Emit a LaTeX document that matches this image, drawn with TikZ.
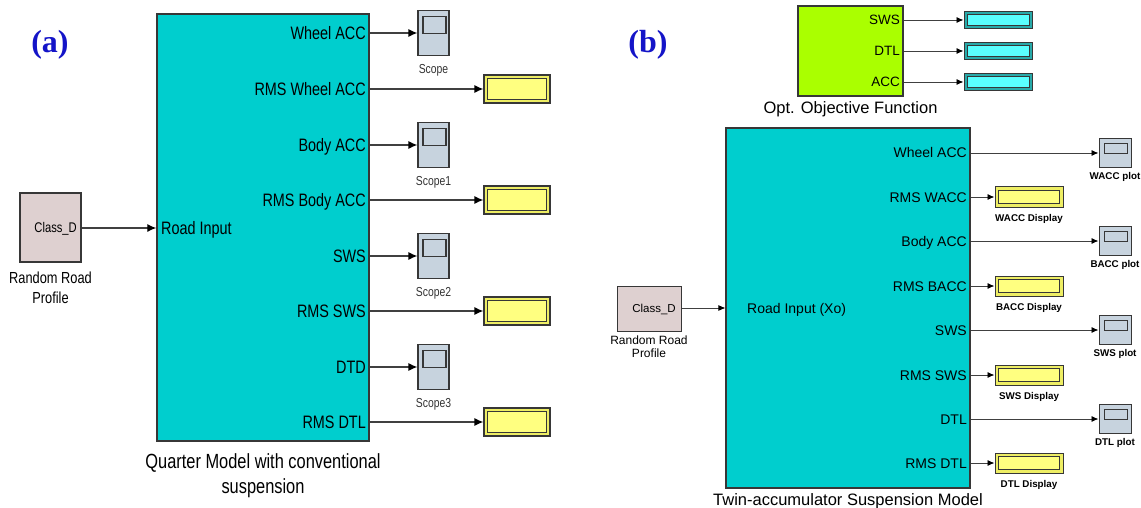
\documentclass[tikz,border=0pt]{standalone}
\usepackage{fontspec}
\newfontfamily\narrowsf[FakeStretch=0.8]{Liberation Sans}
\newfontfamily\plainsf{Liberation Sans}
\newfontfamily\serifbf{Liberation Serif}
\usetikzlibrary{arrows.meta,positioning}

\definecolor{mdlcyan}{RGB}{0,206,206}
\definecolor{mdledge}{RGB}{55,55,55}
\definecolor{roadpink}{RGB}{222,208,208}
\definecolor{scopegray}{RGB}{199,211,222}
\definecolor{dispyellow}{RGB}{255,255,128}
\definecolor{dispolive}{RGB}{238,238,100}
\definecolor{dispcyan}{RGB}{90,255,255}
\definecolor{dispteal}{RGB}{40,170,170}
\definecolor{objgreen}{RGB}{170,255,0}
\definecolor{panelblue}{RGB}{20,20,200}

\tikzset{
  blk/.style={draw=mdledge, line width=1.3, fill=mdlcyan, inner sep=0},
  objblk/.style={blk, fill=objgreen, line width=1.1},
  road/.style={draw=mdledge, line width=1.2, fill=roadpink, inner sep=0},
  scopeA/.style={draw=mdledge, line width=1.2, fill=scopegray, inner sep=0,
    minimum width=31, minimum height=45,
    path picture={\draw[line width=1.1, draw=mdledge] ([shift={(5pt,-6pt)}]path picture bounding box.north west) rectangle ++(23pt,-17pt);}},
  scopeB/.style={draw=mdledge, line width=1, fill=scopegray, inner sep=0,
    minimum width=32, minimum height=29,
    path picture={\draw[line width=1, draw=mdledge] ([shift={(5pt,-5pt)}]path picture bounding box.north west) rectangle ++(23pt,-10pt);}},
  dispA/.style={draw=mdledge, line width=1.2, fill=dispolive, inner sep=0,
    minimum width=66, minimum height=28,
    path picture={\draw[line width=1, draw=mdledge, fill=dispyellow] ([shift={(3.5pt,-3.5pt)}]path picture bounding box.north west) rectangle ([shift={(-3.5pt,3.5pt)}]path picture bounding box.south east);}},
  dispB/.style={dispA, line width=1, minimum width=68, minimum height=20},
  dispC/.style={dispB, fill=dispteal, minimum height=17,
    path picture={\draw[line width=0.9, draw=mdledge, fill=dispcyan] ([shift={(3pt,-3pt)}]path picture bounding box.north west) rectangle ([shift={(-3pt,3pt)}]path picture bounding box.south east);}},
  sigA/.style={draw=black!75, line width=1.2, -{Latex[length=9pt,width=8pt,color=black]}},
  sigB/.style={draw=black!75, line width=0.9, -{Latex[length=7pt,width=6pt,color=black]}},
  portA/.style={anchor=east, inner sep=0, font=\narrowsf\fontsize{18}{21}\selectfont, text height=13pt, text depth=0pt},
  portB/.style={anchor=east, inner sep=0, font=\plainsf\fontsize{14}{16}\selectfont, text height=10pt, text depth=0pt},
  portG/.style={portB, font=\plainsf\fontsize{13.5}{16}\selectfont, text height=9.7pt},
  cdA/.style={anchor=east, inner sep=0, font=\narrowsf\fontsize{14}{16}\selectfont, text height=10pt, text depth=0pt},
  cdB/.style={cdA, font=\plainsf\fontsize{11.5}{13}\selectfont, text height=8.3pt},
  lblA/.style={inner sep=0, font=\narrowsf\fontsize{13}{15}\selectfont, text height=9.3pt, text depth=0pt, text=black!80},
  lblB/.style={inner sep=0, font=\plainsf\bfseries\fontsize{9.8}{11}\selectfont, text height=7pt, text depth=0pt},
  rrpA/.style={inner sep=0, align=center, font=\narrowsf\fontsize{16}{20}\selectfont},
  rrpB/.style={inner sep=0, align=center, font=\plainsf\fontsize{12}{12.5}\selectfont},
  capA/.style={inner sep=0, align=center, font=\narrowsf\fontsize{20.5}{25}\selectfont},
  capB/.style={inner sep=0, font=\plainsf\fontsize{16.5}{19}\selectfont, text height=12pt, text depth=0pt},
  panel/.style={inner sep=0, font=\serifbf\bfseries\fontsize{32}{36}\selectfont, text=panelblue}
}

\begin{document}
\begin{tikzpicture}[x=1pt, y=-1pt]
    \useasboundingbox (0,0) rectangle (1141,508);

    % (a) quarter model
    \node[panel] (pa) at (50,45) {(a)};
    \node[blk, minimum width=212, minimum height=427] (qm) at (263,227.5) {};
    \node[capA, below=12pt of qm] (qmcap) {Quarter Model with conventional\\suspension};

    \node[road, minimum width=61, minimum height=69] (rdA) at (50.5,227.5) {};
    \node[cdA] (rdAt) at (77,228) {Class\_D};
    \node[rrpA, below=9pt of rdA] (rdAl) {Random Road\\Profile};
    \node[portA, anchor=west] (qmin) at (161,228) {Road Input};
    \draw[sigA] (rdA.east |- rdAt) -- (qm.west |- rdAt);

    \node[portA] (qwacc) at (366,33) {Wheel ACC};
    \node[portA] (qrwacc) at (366,89) {RMS Wheel ACC};
    \node[portA] (qbacc) at (366,145) {Body ACC};
    \node[portA] (qrbacc) at (366,200) {RMS Body ACC};
    \node[portA] (qsws) at (366,256) {SWS};
    \node[portA] (qrsws) at (366,311) {RMS SWS};
    \node[portA] (qdtd) at (366,367) {DTD};
    \node[portA] (qrdtl) at (366,422) {RMS DTL};

    \node[scopeA] (scA0) at (433.5,33) {};
    \node[scopeA] (scA1) at (433.5,145) {};
    \node[scopeA] (scA2) at (433.5,256) {};
    \node[scopeA] (scA3) at (433.5,367) {};
    \node[lblA, below=8pt of scA0] (scA0l) {Scope};
    \node[lblA, below=8pt of scA1] (scA1l) {Scope1};
    \node[lblA, below=8pt of scA2] (scA2l) {Scope2};
    \node[lblA, below=8pt of scA3] (scA3l) {Scope3};

    \node[dispA] (dA0) at (517,89) {};
    \node[dispA] (dA1) at (517,200) {};
    \node[dispA] (dA2) at (517,311) {};
    \node[dispA] (dA3) at (517,422) {};

    \draw[sigA] (qm.east |- scA0) -- (scA0.west);
    \draw[sigA] (qm.east |- dA0) -- (dA0.west);
    \draw[sigA] (qm.east |- scA1) -- (scA1.west);
    \draw[sigA] (qm.east |- dA1) -- (dA1.west);
    \draw[sigA] (qm.east |- scA2) -- (scA2.west);
    \draw[sigA] (qm.east |- dA2) -- (dA2.west);
    \draw[sigA] (qm.east |- scA3) -- (scA3.west);
    \draw[sigA] (qm.east |- dA3) -- (dA3.west);

    % (b) objective function
    \node[panel] (pb) at (648,45) {(b)};
    \node[objblk, minimum width=105, minimum height=90] (obj) at (850.5,51) {};
    \node[capB, below=5pt of obj] (objcap) {Opt. Objective Function};
    \node[portG] (osws) at (900,20) {SWS};
    \node[portG] (odtl) at (900,51) {DTL};
    \node[portG] (oacc) at (900,82) {ACC};
    \node[dispC] (dC0) at (998,20) {};
    \node[dispC] (dC1) at (998,51) {};
    \node[dispC] (dC2) at (998,82) {};
    \draw[sigB] (obj.east |- dC0) -- (dC0.west);
    \draw[sigB] (obj.east |- dC1) -- (dC1.west);
    \draw[sigB] (obj.east |- dC2) -- (dC2.west);

    % (b) twin-accumulator model
    \node[blk, line width=1.1, minimum width=244, minimum height=360] (tw) at (848,308) {};
    \node[capB, below=5pt of tw] (twcap) {Twin-accumulator Suspension Model};

    \node[road, line width=1, minimum width=64, minimum height=45] (rdB) at (649,308.5) {};
    \node[cdB] (rdBt) at (676,308) {Class\_D};
    \node[rrpB, below=4.5pt of rdB] (rdBl) {Random Road\\Profile};
    \node[portB, anchor=west] (twin) at (747,308) {Road Input (Xo)};
    \draw[sigB] (rdB.east |- rdBt) -- (tw.west |- rdBt);

    \node[portB] (twacc) at (967,153) {Wheel ACC};
    \node[portB] (trwacc) at (967,197) {RMS WACC};
    \node[portB] (tbacc) at (967,241) {Body ACC};
    \node[portB] (trbacc) at (967,286) {RMS BACC};
    \node[portB] (tsws) at (967,330) {SWS};
    \node[portB] (trsws) at (967,375) {RMS SWS};
    \node[portB] (tdtl) at (967,419) {DTL};
    \node[portB] (trdtl) at (967,463) {RMS DTL};

    \node[scopeB] (scB0) at (1115,153) {};
    \node[scopeB] (scB1) at (1115,241) {};
    \node[scopeB] (scB2) at (1115,330) {};
    \node[scopeB] (scB3) at (1115,419) {};
    \node[lblB, below=4pt of scB0] (scB0l) {WACC plot};
    \node[lblB, below=4pt of scB1] (scB1l) {BACC plot};
    \node[lblB, below=4pt of scB2] (scB2l) {SWS plot};
    \node[lblB, below=4pt of scB3] (scB3l) {DTL plot};

    \node[dispB] (dB0) at (1029,197) {};
    \node[dispB] (dB1) at (1029,286) {};
    \node[dispB] (dB2) at (1029,375) {};
    \node[dispB] (dB3) at (1029,463) {};
    \node[lblB, below=7pt of dB0] (dB0l) {WACC Display};
    \node[lblB, below=7pt of dB1] (dB1l) {BACC Display};
    \node[lblB, below=7pt of dB2] (dB2l) {SWS Display};
    \node[lblB, below=7pt of dB3] (dB3l) {DTL Display};

    \draw[sigB] (tw.east |- scB0) -- (scB0.west);
    \draw[sigB] (tw.east |- dB0) -- (dB0.west);
    \draw[sigB] (tw.east |- scB1) -- (scB1.west);
    \draw[sigB] (tw.east |- dB1) -- (dB1.west);
    \draw[sigB] (tw.east |- scB2) -- (scB2.west);
    \draw[sigB] (tw.east |- dB2) -- (dB2.west);
    \draw[sigB] (tw.east |- scB3) -- (scB3.west);
    \draw[sigB] (tw.east |- dB3) -- (dB3.west);
\end{tikzpicture}
\end{document}
